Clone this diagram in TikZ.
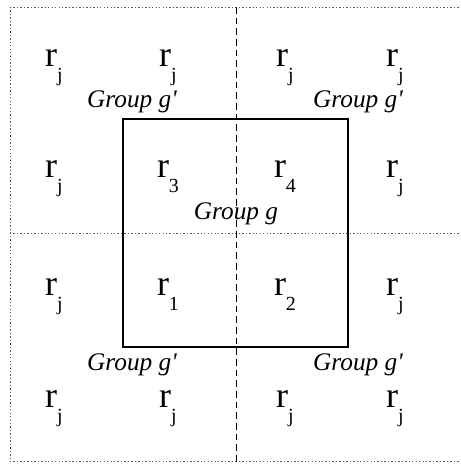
\documentclass[tikz,border=0pt]{standalone}
\usepackage{fontspec}
\setmainfont{Liberation Serif}
\usetikzlibrary{positioning}

\newcommand{\rsub}[1]{r\raisebox{-0.42em}{\fontsize{15}{15}\selectfont #1}}
\tikzset{
  rlabel/.style={anchor=base,inner sep=0pt,font=\fontsize{27}{27}\selectfont},
  grouplabel/.style={anchor=base,inner sep=0pt,font=\fontsize{19}{20}\selectfont\itshape},
  gridline/.style={gray!70!black,line width=0.6pt,dash pattern=on 1pt off 1.6pt},
  splitline/.style={black,line width=0.7pt,dash pattern=on 5pt off 3pt},
}

\begin{document}
\begin{tikzpicture}[x=0.75pt,y=-0.75pt]
  \useasboundingbox (0,0) rectangle (461,465);
  % Dotted borders
  \draw[gridline] (10,7) -- (461,7);
  \draw[gridline] (10,7) -- (10,461);
  \draw[gridline] (10,461) -- (461,461);
  \draw[gridline] (10,233) -- (461,233);
  % Dashed split
  \draw[splitline] (236,7) -- (236,462);
  % Group g
  \draw[line width=0.8pt] (123,119) rectangle (348,347);
  % Row 1
  \node[rlabel] (a1) at (54,66) {\rsub{j}};
  \node[rlabel] (a2) at (168,66) {\rsub{j}};
  \node[rlabel] (a3) at (285,66) {\rsub{j}};
  \node[rlabel] (a4) at (395,66) {\rsub{j}};
  % Row 2
  \node[rlabel] (b1) at (54,177) {\rsub{j}};
  \node[rlabel] (b2) at (168,177) {\rsub{3}};
  \node[rlabel] (b3) at (285,177) {\rsub{4}};
  \node[rlabel] (b4) at (395,177) {\rsub{j}};
  % Row 3
  \node[rlabel] (c1) at (54,295) {\rsub{j}};
  \node[rlabel] (c2) at (168,295) {\rsub{1}};
  \node[rlabel] (c3) at (285,295) {\rsub{2}};
  \node[rlabel] (c4) at (395,295) {\rsub{j}};
  % Row 4
  \node[rlabel] (d1) at (54,407) {\rsub{j}};
  \node[rlabel] (d2) at (168,407) {\rsub{j}};
  \node[rlabel] (d3) at (285,407) {\rsub{j}};
  \node[rlabel] (d4) at (395,407) {\rsub{j}};
  % Group labels
  \node[grouplabel] (gnw) at (132,107) {Group g\textquotesingle};
  \node[grouplabel] (gne) at (358,107) {Group g\textquotesingle};
  \node[grouplabel] (gc) at (236,219) {Group g};
  \node[grouplabel] (gsw) at (132,370) {Group g\textquotesingle};
  \node[grouplabel] (gse) at (358,370) {Group g\textquotesingle};
\end{tikzpicture}
\end{document}
